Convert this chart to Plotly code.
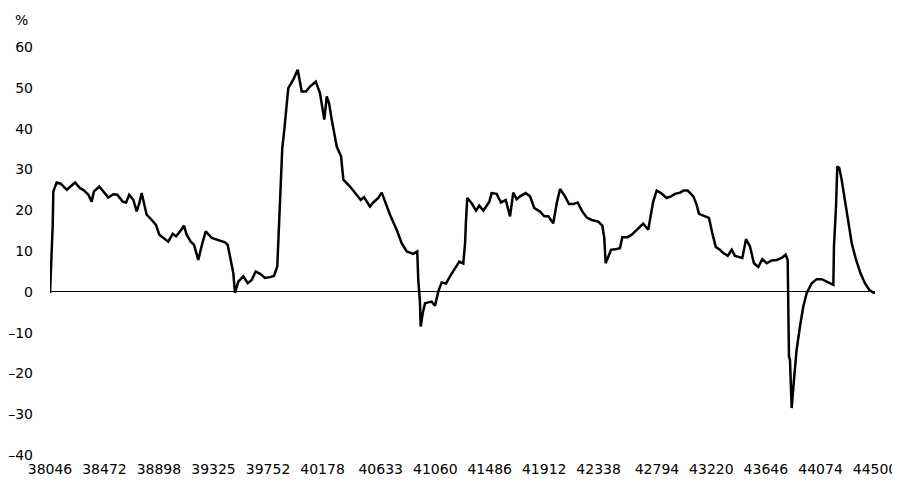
import plotly.graph_objects as go

# Excel date serials and % values
dates = [
    38046, 38059, 38067, 38072, 38098, 38130, 38177, 38242, 38281, 38306,
    38346, 38372, 38390, 38432, 38463, 38502, 38541, 38572, 38615, 38641,
    38666, 38698, 38724, 38745, 38763, 38784, 38802, 38842, 38875, 38901,
    38932, 38971, 39006, 39032, 39063, 39094, 39115, 39147, 39173, 39188,
    39206, 39231, 39264, 39311, 39363, 39415, 39436, 39462, 39480, 39493,
    39519, 39558, 39593, 39624, 39655, 39689, 39728, 39767, 39798, 39824,
    39838, 39851, 39863, 39879, 39895, 39910, 39949, 39984, 40015, 40049,
    40080, 40125, 40158, 40192, 40211, 40229, 40250, 40289, 40323, 40341,
    40393, 40440, 40477, 40502, 40524, 40549, 40575, 40614, 40641, 40661,
    40706, 40758, 40797, 40837, 40888, 40919, 40927, 40940, 40946, 40962,
    40980, 41006, 41032, 41058, 41084, 41110, 41144, 41175, 41214, 41248,
    41279, 41293, 41300, 41310, 41345, 41379, 41404, 41436, 41483, 41501,
    41540, 41574, 41611, 41645, 41670, 41697, 41723, 41767, 41801, 41835,
    41879, 41913, 41944, 41983, 42010, 42036, 42075, 42106, 42140, 42174,
    42210, 42245, 42284, 42335, 42367, 42382, 42393, 42414, 42435, 42479,
    42505, 42523, 42565, 42597, 42637, 42687, 42726, 42747, 42765, 42792,
    42826, 42870, 42904, 42935, 42975, 43001, 43035, 43079, 43105, 43123,
    43170, 43201, 43227, 43254, 43287, 43313, 43348, 43379, 43405, 43444,
    43462, 43491, 43522, 43553, 43587, 43618, 43653, 43692, 43731, 43770,
    43801, 43817, 43821, 43827, 43835, 43848, 43866, 43887, 43913, 43939,
    43966, 44005, 44044, 44083, 44122, 44174, 44179, 44195, 44205, 44221,
    44239, 44265, 44291, 44318, 44352, 44386, 44421, 44455, 44486, 44500,
]
values = [
    -0.3, 7.8, 16.0, 24.6, 26.8, 26.5, 25.0, 26.8, 25.4, 25.0,
    23.8, 22.1, 24.6, 25.8, 24.6, 23.1, 23.9, 23.8, 22.1, 21.9,
    23.8, 22.5, 19.7, 21.7, 24.2, 21.7, 18.9, 17.6, 16.4, 14.0,
    13.2, 12.3, 14.2, 13.6, 14.8, 16.2, 14.0, 12.3, 11.5, 9.9,
    7.8, 11.1, 14.8, 13.2, 12.7, 12.1, 11.5, 7.8, 4.6, -0.3,
    2.5, 3.8, 2.1, 2.9, 5.0, 4.4, 3.4, 3.6, 3.9, 6.2,
    16.8, 25.8, 35.2, 39.7, 44.6, 49.9, 52.0, 54.4, 49.1, 49.1,
    50.3, 51.5, 48.7, 42.2, 47.9, 46.2, 42.2, 35.6, 33.2, 27.5,
    25.8, 23.8, 22.5, 23.2, 22.1, 20.9, 21.9, 23.0, 24.3, 22.5,
    18.9, 15.2, 11.9, 9.9, 9.3, 9.9, 2.9, -2.4, -8.5, -5.2,
    -2.8, -2.6, -2.4, -3.4, 0.1, 2.3, 2.0, 3.8, 5.8, 7.4,
    6.9, 11.9, 17.2, 23.0, 21.7, 19.9, 21.1, 19.9, 22.1, 24.2,
    24.0, 21.9, 22.5, 18.5, 24.3, 22.7, 23.4, 24.2, 23.4, 20.5,
    19.7, 18.5, 18.5, 16.8, 21.7, 25.2, 23.4, 21.5, 21.5, 21.9,
    19.7, 18.2, 17.6, 17.2, 16.2, 13.2, 7.0, 8.7, 10.3, 10.5,
    10.7, 13.4, 13.4, 14.0, 15.1, 16.7, 15.2, 18.9, 22.1, 24.8,
    24.2, 23.0, 23.4, 24.0, 24.3, 24.8, 24.8, 23.4, 21.3, 19.1,
    18.6, 18.1, 14.4, 11.0, 10.3, 9.5, 8.8, 10.3, 8.8, 8.5,
    8.3, 12.9, 11.1, 7.0, 6.1, 8.0, 7.0, 7.7, 7.8, 8.3,
    9.1, 7.8, -3.6, -15.9, -16.7, -28.5, -21.6, -14.2, -8.5, -3.6,
    -0.3, 2.1, 3.1, 3.1, 2.5, 1.7, 11.1, 20.9, 30.7, 30.3,
    27.5, 22.5, 16.8, 11.9, 7.8, 4.6, 2.1, 0.5, -0.2, -0.3,
]

x_ticks = [38046, 38472, 38898, 39325, 39752, 40178, 40633, 41060,
           41486, 41912, 42338, 42794, 43220, 43646, 44074, 44500]
y_ticks = [-40, -30, -20, -10, 0, 10, 20, 30, 40, 50, 60]
y_tick_text = ["\u201340", "\u201330", "\u201320", "\u201310",
               "0", "10", "20", "30", "40", "50", "60"]

fig = go.Figure()
fig.add_trace(go.Scatter(
    x=dates, y=values, mode="lines",
    line=dict(color="black", width=2.5),
    showlegend=False,
))

font = dict(family="DejaVu Sans", size=14, color="black")
fig.update_layout(
    width=892, height=481,
    margin=dict(l=42, r=25, t=39, b=34),
    paper_bgcolor="white", plot_bgcolor="white",
    font=font,
    xaxis=dict(
        range=[38046, 44500], tickvals=x_ticks,
        ticktext=[str(v) for v in x_ticks],
        showgrid=False, zeroline=False, showline=False,
        ticks="", ticklabelstandoff=4, tickfont=font,
        automargin=False,
    ),
    yaxis=dict(
        range=[-40, 60], tickvals=y_ticks, ticktext=y_tick_text,
        showgrid=False, zeroline=True, zerolinecolor="black",
        zerolinewidth=1, showline=False, ticks="",
        ticklabelstandoff=16, tickfont=font, automargin=False,
    ),
    annotations=[dict(
        text="%", xref="paper", yref="paper", x=-0.034, y=1.066,
        showarrow=False, font=font, xanchor="center", yanchor="middle",
    )],
)

fig.write_html("out.html")
